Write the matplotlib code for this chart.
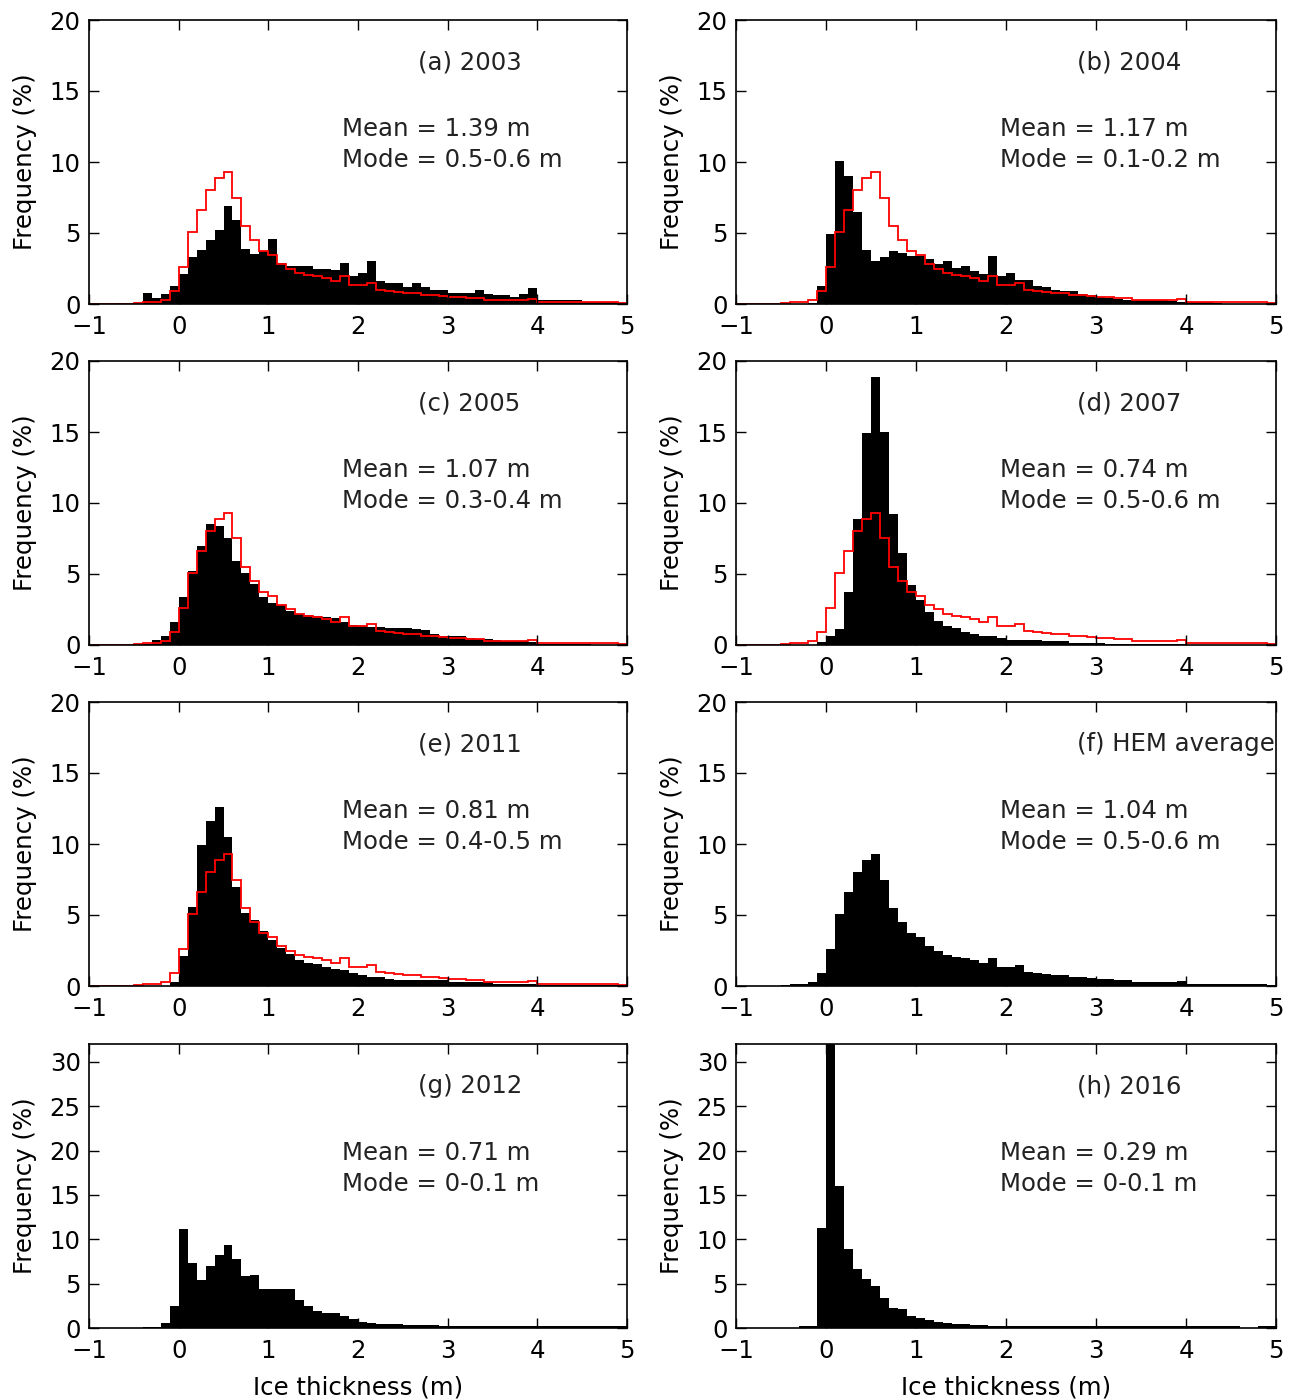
import numpy as np
import matplotlib
matplotlib.use("Agg")
import matplotlib.pyplot as plt

# bin edges: 0.1 m bins from -1 to 5 m
edges = np.round(np.arange(-1.0, 5.0001, 0.1), 1)

# HEM average (panel f, red line in a-e), bins starting at -1.0
hem_avg = [0, 0, 0, 0, 0, 0.05, 0.15, 0.15, 0.3, 0.9,
           2.6, 5.1, 6.6, 8.0, 8.9, 9.3, 7.5, 5.5, 4.5, 3.75,
           3.45, 2.8, 2.5, 2.2, 2.05, 1.95, 1.8, 1.65, 1.95, 1.35,
           1.35, 1.5, 1.0, 0.95, 0.85, 0.8, 0.75, 0.65, 0.6, 0.55,
           0.5, 0.5, 0.45, 0.4, 0.3, 0.3, 0.3, 0.3, 0.3, 0.35,
           0.15, 0.15, 0.15, 0.15, 0.15, 0.15, 0.15, 0.15, 0.15, 0.05]

y2003 = [0, 0, 0, 0.1, 0, 0, 0.8, 0.4, 0.7, 1.3,
         2.1, 3.3, 3.8, 4.5, 5.2, 6.9, 5.9, 3.9, 3.5, 3.7,
         4.6, 2.9, 2.7, 2.7, 2.7, 2.5, 2.45, 2.4, 2.9, 2.0,
         2.2, 3.0, 1.6, 1.5, 1.45, 1.2, 1.5, 1.2, 1.0, 1.0,
         0.8, 0.8, 0.8, 1.0, 0.7, 0.6, 0.6, 0.5, 0.7, 1.15,
         0.3, 0.3, 0.3, 0.3, 0.3, 0.15, 0.15, 0.15, 0.15, 0.1]

y2004 = [0, 0, 0, 0, 0, 0, 0, 0, 0.1, 1.3,
         4.9, 10.1, 9.0, 6.5, 3.8, 3.0, 3.3, 3.75, 3.6, 3.4,
         3.4, 3.2, 2.85, 3.0, 2.55, 2.7, 2.3, 2.1, 3.4, 2.0,
         2.2, 1.7, 1.7, 1.3, 1.2, 1.0, 0.9, 0.9, 0.7, 0.6,
         0.5, 0.4, 0.35, 0.3, 0.3, 0.25, 0.25, 0.3, 0.2, 0.15,
         0.15, 0.15, 0.15, 0.1, 0, 0, 0, 0, 0, 0]

y2005 = [0, 0, 0, 0, 0, 0, 0.05, 0.35, 0.65, 1.6,
         3.35, 5.2, 7.0, 8.5, 8.4, 7.5, 5.9, 5.05, 4.3, 3.4,
         2.95, 2.8, 2.4, 2.2, 2.1, 2.05, 1.95, 1.9, 1.6, 1.4,
         1.35, 1.3, 1.3, 1.2, 1.2, 1.2, 1.15, 1.05, 0.75, 0.65,
         0.6, 0.6, 0.5, 0.4, 0.4, 0.35, 0.3, 0.3, 0.25, 0.2,
         0.1, 0.1, 0.1, 0.1, 0.1, 0.05, 0, 0, 0, 0]

y2007 = [0, 0, 0, 0, 0, 0, 0, 0, 0, 0.2,
         0.65, 1.1, 3.7, 8.9, 14.9, 18.85, 15.0, 9.2, 6.45, 4.2,
         3.2, 2.35, 1.7, 1.35, 1.2, 0.95, 0.8, 0.65, 0.6, 0.5,
         0.35, 0.35, 0.35, 0.35, 0.25, 0.25, 0.25, 0.15, 0.15, 0.15,
         0.15, 0.1, 0.1, 0.1, 0.1, 0.1, 0.05, 0.05, 0.05, 0.05,
         0, 0, 0, 0, 0, 0, 0, 0, 0, 0]

y2011 = [0, 0, 0.05, 0.05, 0, 0, 0, 0, 0, 0.3,
         2.1, 5.55, 9.9, 11.6, 12.6, 10.5, 7.0, 5.15, 4.65, 3.9,
         3.25, 2.65, 2.25, 1.8, 1.65, 1.55, 1.35, 1.2, 1.1, 0.95,
         0.8, 0.65, 0.6, 0.5, 0.4, 0.4, 0.4, 0.4, 0.4, 0.4,
         0.3, 0.25, 0.25, 0.25, 0.25, 0.15, 0.15, 0.15, 0.15, 0.15,
         0.05, 0.05, 0.05, 0.05, 0.05, 0.05, 0.05, 0.05, 0.05, 0.05]

y2012 = [0, 0, 0, 0, 0, 0, 0.15, 0.15, 0.6, 2.45,
         11.1, 7.3, 5.4, 7.0, 8.2, 9.3, 7.8, 5.9, 6.0, 4.4,
         4.4, 4.4, 4.4, 3.1, 2.5, 1.95, 1.7, 1.7, 1.4, 1.0,
         0.7, 0.6, 0.45, 0.45, 0.45, 0.35, 0.35, 0.35, 0.35, 0.25,
         0.25, 0.25, 0.25, 0.25, 0.25, 0.25, 0.25, 0.25, 0.25, 0.25,
         0.25, 0.25, 0.25, 0.25, 0.25, 0.25, 0.25, 0.25, 0.25, 0.25]

y2016 = [0, 0, 0, 0, 0, 0, 0, 0.25, 0.25, 11.3,
         38.0, 16.0, 8.85, 6.6, 5.5, 4.75, 3.35, 2.3, 2.1, 1.35,
         1.1, 0.9, 0.7, 0.6, 0.5, 0.45, 0.35, 0.3, 0.25, 0.25,
         0.25, 0.25, 0.25, 0.25, 0.25, 0.25, 0.25, 0.25, 0.25, 0.25,
         0.25, 0.25, 0.25, 0.25, 0.25, 0.25, 0.25, 0.25, 0.25, 0.25,
         0.25, 0.25, 0.25, 0.25, 0.25, 0.25, 0, 0, 0.25, 0.25]

titles = ["(a) 2003", "(b) 2004", "(c) 2005", "(d) 2007",
          "(e) 2011", "(f) HEM average", "(g) 2012", "(h) 2016"]
means = ["1.39", "1.17", "1.07", "0.74", "0.81", "1.04", "0.71", "0.29"]
modes = ["0.5-0.6", "0.1-0.2", "0.3-0.4", "0.5-0.6",
         "0.4-0.5", "0.5-0.6", "0-0.1", "0-0.1"]
series = [y2003, y2004, y2005, y2007, y2011, hem_avg, y2012, y2016]
show_red = [True, True, True, True, True, False, False, False]

FS = 17.6
plt.rcParams['font.family'] = 'DejaVu Sans'
plt.rcParams['font.size'] = FS

fig = plt.figure(figsize=(12.91, 14), dpi=100)

col_left = [89 / 1291, 736 / 1291]
col_width = [538 / 1291, 540 / 1291]
row_bottom = [1 - 304 / 1400, 1 - 645 / 1400, 1 - 986 / 1400, 1 - 1328 / 1400]
row_height = 284 / 1400
text_x_title = [0.611, 0.631]
text_x_stats = [0.470, 0.489]

for i in range(8):
    r, c = divmod(i, 2)
    ax = fig.add_axes([col_left[c], row_bottom[r], col_width[c], row_height])
    ax.stairs(series[i], edges, fill=True, color='black', lw=0)
    if show_red[i]:
        ax.stairs(hem_avg, edges, color='red', lw=1.3)

    ax.set_xlim(-1, 5)
    ax.set_xticks(range(-1, 6))
    if r < 3:
        ax.set_ylim(0, 20)
        ax.set_yticks([0, 5, 10, 15, 20])
    else:
        ax.set_ylim(0, 32)
        ax.set_yticks([0, 5, 10, 15, 20, 25, 30])
        ax.set_xlabel("Ice thickness (m)", labelpad=9)
    ax.set_ylabel("Frequency (%)", labelpad=9)

    ax.tick_params(direction='in', top=True, right=True, length=7, width=1,
                   labelsize=FS)
    ax.tick_params(axis='x', pad=8)
    ax.tick_params(axis='y', pad=6)
    for s in ax.spines.values():
        s.set_linewidth(1.2)

    ax.text(text_x_title[c], 0.852, titles[i], transform=ax.transAxes,
            ha='left', va='center', fontsize=FS, color='#222222', clip_on=True)
    ax.text(text_x_stats[c], 0.616, "Mean = %s m" % means[i], transform=ax.transAxes,
            ha='left', va='center', fontsize=FS, color='#222222')
    ax.text(text_x_stats[c], 0.507, "Mode = %s m" % modes[i], transform=ax.transAxes,
            ha='left', va='center', fontsize=FS, color='#222222')

fig.savefig("out.png", dpi=100)
